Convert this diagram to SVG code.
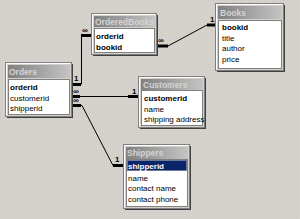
<svg xmlns="http://www.w3.org/2000/svg" width="300" height="219" viewBox="0 0 300 219">
<defs>
<linearGradient id="tg" x1="0" x2="1" y1="0" y2="0">
<stop offset="0" stop-color="#808080"/>
<stop offset="1" stop-color="#c4c4c4"/>
</linearGradient>
<pattern id="dots" width="2" height="2" patternUnits="userSpaceOnUse">
<rect width="2" height="2" fill="#d6d3ce"/>
<rect width="1" height="1" fill="#cfccc6"/>
</pattern>
</defs>
<style>
.frame{fill:#d4d0c8;stroke:#808080;stroke-width:1}
.hl{fill:none;stroke:#ffffff;stroke-width:1}
.title{fill:url(#tg)}
.ttxt{font-family:"Liberation Sans",Arial,sans-serif;font-size:8.5px;font-weight:bold;fill:#d4d4d4}
.list{fill:#ffffff;stroke:#808080;stroke-width:1}
.f{font-family:"Liberation Sans",Arial,sans-serif;font-size:8px;fill:#000000}
.k{font-weight:bold}
.ln{fill:none;stroke:#000000;stroke-width:1}
.bar{fill:none;stroke:#000000;stroke-width:3}
.lbl{font-family:"Liberation Sans",Arial,sans-serif;font-size:8px;font-weight:bold;fill:#000000}
.shadow{fill:#404040}
</style>
<rect width="300" height="219" fill="url(#dots)"/>

<g id="connectors">
<!-- Orders - OrderedBooks -->
<path class="ln" d="M72 84 H81.5 V35.5 H92"/>
<path class="bar" d="M72 84.5 H81"/>
<path class="bar" d="M81 35.5 H92"/>
<text class="lbl" x="74" y="81">1</text>
<text class="lbl" x="82" y="33">∞</text>
<!-- Orders - Customers -->
<path class="ln" d="M72 96.5 H139"/>
<path class="bar" d="M72 96.5 H80"/>
<path class="bar" d="M128 96.5 H139"/>
<text class="lbl" x="73" y="94">∞</text>
<text class="lbl" x="132" y="94">1</text>
<!-- Orders - Shippers -->
<path class="ln" d="M72 105.5 H82 L113 165.5 H124"/>
<path class="bar" d="M72 105.5 H81"/>
<path class="bar" d="M113 165.5 H124"/>
<text class="lbl" x="73" y="103">∞</text>
<text class="lbl" x="115" y="162">1</text>
<!-- OrderedBooks - Books -->
<path class="ln" d="M157 46 H168 L207 25 H216"/>
<path class="bar" d="M157 46 H168"/>
<path class="bar" d="M207 25 H216"/>
<text class="lbl" x="158" y="43">∞</text>
<text class="lbl" x="210" y="22">1</text>
</g>

<g id="OrderedBooks">
<rect class="shadow" x="93" y="15" width="65" height="41"/>
<rect class="frame" x="91.5" y="13.5" width="65" height="41"/>
<path class="hl" d="M92.5 53.5 V14.5 H155.5"/>
<rect class="title" x="94" y="16" width="61" height="11"/>
<text class="ttxt" x="95" y="25" textLength="59" lengthAdjust="spacingAndGlyphs">OrderedBooks</text>
<rect class="list" x="94.5" y="28.5" width="60" height="24"/>
<text class="f k" x="96" y="38.5">orderid</text>
<text class="f k" x="96" y="49.5">bookid</text>
</g>

<g id="Books">
<rect class="shadow" x="217" y="5" width="68" height="67"/>
<rect class="frame" x="215.5" y="3.5" width="68" height="67"/>
<path class="hl" d="M216.5 69.5 V4.5 H282.5"/>
<rect class="title" x="218" y="6" width="64" height="13"/>
<text class="ttxt" x="220" y="16">Books</text>
<rect class="list" x="218.5" y="20.5" width="63" height="48"/>
<text class="f k" x="222" y="30">bookid</text>
<text class="f" x="222" y="41">title</text>
<text class="f" x="222" y="51">author</text>
<text class="f" x="222" y="62">price</text>
</g>

<g id="Orders">
<rect class="shadow" x="7" y="64" width="66" height="54"/>
<rect class="frame" x="5.5" y="62.5" width="66" height="54"/>
<path class="hl" d="M6.5 115.5 V63.5 H70.5"/>
<rect class="title" x="8" y="65" width="62" height="13"/>
<text class="ttxt" x="9" y="75">Orders</text>
<rect class="list" x="8.5" y="79.5" width="61" height="35"/>
<text class="f k" x="10" y="90">orderid</text>
<text class="f" x="10" y="101">customerid</text>
<text class="f" x="10" y="111">shipperid</text>
</g>

<g id="Customers">
<rect class="shadow" x="140" y="78" width="66" height="51"/>
<rect class="frame" x="138.5" y="76.5" width="66" height="51"/>
<path class="hl" d="M139.5 126.5 V77.5 H203.5"/>
<rect class="title" x="141" y="79" width="62" height="11"/>
<text class="ttxt" x="143" y="88">Customers</text>
<rect class="list" x="141.5" y="90.5" width="61" height="35"/>
<text class="f k" x="144" y="101">customerid</text>
<text class="f" x="144" y="112">name</text>
<text class="f" x="144" y="122">shipping address</text>
</g>

<g id="Shippers">
<rect class="shadow" x="125" y="146" width="66" height="64"/>
<rect class="frame" x="123.5" y="144.5" width="66" height="64"/>
<path class="hl" d="M124.5 207.5 V145.5 H188.5"/>
<rect class="title" x="126" y="147" width="62" height="12"/>
<text class="ttxt" x="127" y="156">Shippers</text>
<rect class="list" x="126.5" y="159.5" width="61" height="47"/>
<rect x="127" y="160" width="60" height="11" fill="#0a246a"/>
<rect x="127.5" y="160.5" width="59" height="10" fill="none" stroke="#d4d0c8" stroke-width="1" stroke-dasharray="1 1"/>
<text class="f k" x="128" y="168.5" style="fill:#ffffff">shipperid</text>
<text class="f" x="128" y="180.5">name</text>
<text class="f" x="128" y="191">contact name</text>
<text class="f" x="128" y="201.5">contact phone</text>
</g>
</svg>
